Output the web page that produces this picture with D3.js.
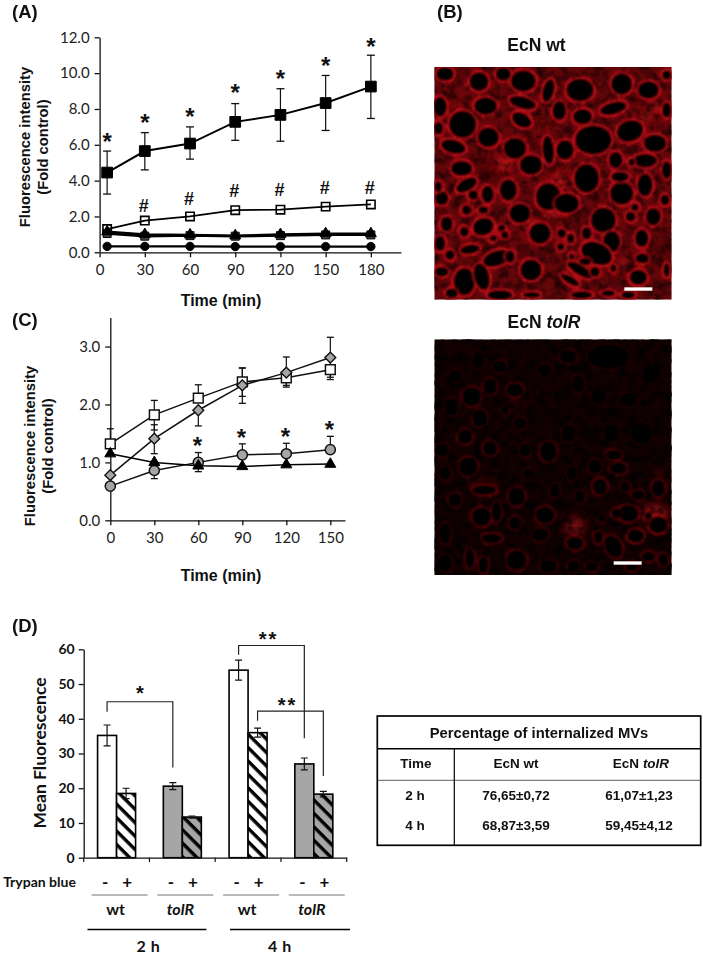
<!DOCTYPE html>
<html><head><meta charset="utf-8">
<script src="https://cdn.jsdelivr.net/npm/d3@7"></script>
<style>html,body{margin:0;padding:0;background:#fff}svg{display:block}
text{font-family:"Liberation Sans",Arial,sans-serif;fill:#111}
.tick text{font-family:Lato,"Open Sans",sans-serif;font-size:15px;fill:#222}
.dtick .tick text{font-weight:700;font-size:14px;fill:#111}
.lab{font-family:Lato,"Open Sans",sans-serif;font-weight:700}
.title{font-weight:700}</style></head><body>
<svg id="c" width="703" height="955"></svg>
<script>
// ---------- Panel A ----------
const timesA=[5,30,60,90,120,150,180];
const aBlack=[4.45,5.65,6.07,7.28,7.67,8.33,9.25];
const aBlackHi=[5.65,6.68,7.0,8.3,9.13,9.87,11.0];
const aBlackLo=[3.25,4.6,5.2,6.25,6.2,6.8,7.47];
const aOpen=[1.3,1.77,2.0,2.35,2.38,2.55,2.67];
const aTri=[1.15,1.0,0.98,0.93,1.0,1.05,1.05];
const aTri2=[1.05,0.9,0.93,0.9,0.93,0.97,0.97];
const aCirc=[0.33,0.33,0.33,0.32,0.32,0.32,0.32];
const aStars=[6.36,7.45,7.8,9.1,9.9,10.6,11.7];
const aHash=[2.64,2.98,3.44,3.53,3.6,3.62];
const aYTicks=[0,2,4,6,8,10,12];
const aXTicks=[0,30,60,90,120,150,180];
// ---------- Panel C ----------
const timesC=[0,30,60,90,120,150];
const cSquare=[1.32,1.82,2.11,2.39,2.46,2.6];
const cSquareHi=[1.58,2.07,2.34,2.63,2.46,2.6];
const cSquareLo=[1.32,1.56,2.11,2.14,2.3,2.43];
const cDiamond=[0.78,1.41,1.9,2.33,2.55,2.81];
const cDiamondHi=[0.78,1.65,1.9,2.63,2.82,3.16];
const cDiamondLo=[0.78,1.15,1.63,2.02,2.33,2.47];
const cCircle=[0.59,0.86,1.0,1.13,1.15,1.22];
const cCircleHi=[0.59,0.98,1.17,1.32,1.33,1.45];
const cCircleLo=[0.59,0.72,0.84,1.13,1.15,1.22];
const cTri=[1.15,1.0,0.94,0.93,0.96,0.97];
const cStars=[1.36,1.49,1.5,1.62];
const cYTicks=[0,1,2,3];
// ---------- Panel D ----------
const dGroups=["2h wt","2h tolR","4h wt","4h tolR"];
const dTrypan=["-","+"];
const dMinus=[35.2,20.6,54,27];
const dPlus=[18.5,11.7,36,18.3];
const dMinusErr=[3,1,2.9,1.7];
const dPlusErr=[1.5,0.3,1.3,0.8];
const dStrain=["wt","tolR","wt","tolR"];
const dTime=["2 h","4 h"];
const dYTicks=[0,10,20,30,40,50,60];
// brackets: group, sign, level at start; top level; group, sign, level at end
const dBrackets=[[0,"-",42,44.9,1,"-",26,"*"],[2,"-",58.4,61.1,3,"-",34.4,"**"],[2,"+",39.4,42.2,3,"+",23.5,"**"]];
// ---------- Table ----------
const tTitle="Percentage of internalized MVs";
const tHead=["Time","EcN wt","EcN tolR"];
const tRows=[["2 h","76,65±0,72","61,07±1,23"],["4 h","68,87±3,59","59,45±4,12"]];
// ---------- Micrographs: dark cell cavities ----------
const wtCells=[[162,245,27,27,0],[295,243,35,30,0],[370,272,17,33,15],[465,270,38,32,0],[590,252,30,30,0],[235,222,22,20,0],[60,222,25,20,0],[670,270,30,25,0],[45,320,20,28,0],[182,318,32,25,0],[293,308,38,18,15],[403,332,20,27,0],[473,350,27,22,0],[565,325,38,18,-15],[290,360,30,20,30],[113,373,38,38,0],[615,393,38,30,-20],[40,385,15,18,0],[85,440,35,20,15],[190,412,30,28,0],[270,445,32,30,0],[370,450,17,40,-5],[420,450,25,28,0],[505,420,50,40,0],[690,430,32,25,0],[110,505,30,22,0],[318,495,32,28,0],[485,535,35,40,0],[572,480,20,24,0],[660,482,33,20,0],[620,487,10,12,0],[725,510,15,25,0],[125,555,32,18,-30],[250,570,25,30,0],[188,583,18,25,0],[145,585,15,15,0],[370,590,35,38,0],[425,610,35,28,0],[590,580,33,32,0],[585,530,25,15,0],[660,555,22,32,0],[50,595,20,20,0],[285,640,30,28,0],[125,630,15,15,0],[175,630,15,12,0],[535,660,35,35,0],[617,650,15,15,0],[630,622,12,12,0],[685,650,22,25,0],[65,672,18,22,0],[175,680,30,25,-20],[118,695,14,15,0],[230,685,12,12,0],[345,700,30,30,0],[410,700,14,14,0],[437,715,12,15,0],[485,700,15,18,0],[560,725,25,30,0],[205,715,12,10,0],[240,705,12,12,0],[650,715,20,25,0],[515,760,45,30,25],[135,748,28,14,-10],[75,765,14,15,0],[215,775,40,22,-20],[255,770,15,18,0],[407,740,12,12,0],[50,815,20,15,0],[118,845,30,38,0],[170,830,22,38,-15],[318,810,30,30,0],[440,770,10,10,0],[480,785,18,12,0],[465,810,40,15,30],[510,815,15,15,0],[435,840,30,12,30],[652,775,20,15,0],[565,805,10,12,0],[640,832,25,22,0],[550,880,20,10,0],[470,885,30,12,0],[610,885,20,12,0],[80,880,18,15,0],[225,885,35,15,0],[320,885,25,10,0],[725,810,10,20,0],[45,730,16,22,0],[725,225,14,14,0],[725,330,14,22,0],[720,600,14,16,0],[40,560,12,16,0]];
const wtGlow=[[240,490,30,22,.8],[400,545,28,28,.8],[135,255,18,30,.6],[690,320,22,20,.6],[360,410,14,22,.7],[380,640,30,22,.4],[100,330,22,18,.3],[320,680,26,26,.5],[660,350,20,20,.5],[600,790,22,22,.4]];
const wtDark=[[190,510,30,30],[720,750,14,30],[640,300,30,15],[420,180,40,10]];
const trCells=[[140,290,28,28,0,.7],[195,260,20,25,0,.6],[270,270,25,20,0,.6],[165,355,22,25,0,.5],[120,410,22,22,0,.8],[195,445,22,22,0,.7],[130,500,28,28,0,.7],[370,455,25,30,0,.6],[285,370,18,18,0,.4],[240,330,12,15,0,.4],[178,570,35,15,0,1],[275,590,25,28,0,.7],[170,650,28,28,0,.9],[215,635,15,30,0,.6],[360,645,28,25,0,.7],[200,715,30,15,0,.9],[270,670,18,20,0,.6],[345,705,25,20,0,.5],[275,780,30,30,0,.9],[135,775,14,30,0,.7],[175,795,15,25,0,.7],[370,800,25,20,0,.4],[450,730,25,20,0,1],[610,640,30,25,0,1],[575,640,15,15,0,.8],[700,675,28,25,0,1.4],[670,648,12,12,0,1.4],[632,708,25,20,0,1.2],[520,712,14,20,0,.9],[565,740,25,35,-30,.9],[670,770,20,15,0,.8],[525,560,22,25,0,.9],[580,505,25,18,0,.8],[565,465,25,15,0,.7],[510,500,20,22,0,.5],[600,560,15,15,0,.5],[640,585,20,15,0,.6],[700,565,20,25,0,.8],[530,655,12,12,0,.5],[465,590,15,18,0,.4],[430,170,25,20,0,.4],[550,170,60,35,0,.3],[360,210,20,18,0,.3],[310,520,15,15,0,.3],[90,600,20,20,0,.5],[50,450,20,20,0,.4],[60,520,18,20,0,.4],[225,200,20,18,0,.4],[160,180,18,25,0,.3],[90,230,18,18,0,.2],[80,320,20,25,0,.3],[460,250,18,25,0,.3],[520,290,20,20,0,.2],[610,300,25,20,0,.2],[680,220,25,25,0,.1],[650,400,30,30,0,.2],[560,400,20,25,0,.2],[430,400,20,25,0,.3],[300,450,18,20,0,.4],[440,520,15,20,0,.3],[390,570,15,20,0,.3],[60,700,18,30,0,.4],[60,790,20,25,0,.3],[445,800,18,18,0,.4],[500,800,18,15,0,.5],[620,800,18,14,0,.7],[715,780,15,20,0,.7]];
const trGlow=[[450,680,30,28,.7],[690,640,40,25,.8],[178,565,34,16,.6],[280,300,22,10,.4],[710,530,22,12,.5],[100,400,12,16,.25]];
const trDark=[];

const svg=d3.select("#c");
const defs=svg.append("defs");
const mkBlur=(id,s)=>defs.append("filter").attr("id",id).attr("x","-30%").attr("y","-30%").attr("width","160%").attr("height","160%").append("feGaussianBlur").attr("stdDeviation",s);
mkBlur("b1",0.9);mkBlur("b2",1.8);mkBlur("b3",6);
// mottled tissue texture of the photographs
const tex=defs.append("filter").attr("id","tex").attr("x",0).attr("y",0).attr("width","100%").attr("height","100%");
tex.append("feTurbulence").attr("type","fractalNoise").attr("baseFrequency",0.11).attr("numOctaves",3).attr("seed",7);
tex.append("feColorMatrix").attr("values","0 0 0 0 0  0 0 0 0 0  0 0 0 0 0  2.6 0 0 0 -1.0");
const hatch=(id,bg)=>{const p=defs.append("pattern").attr("id",id).attr("patternUnits","userSpaceOnUse").attr("width",9.5).attr("height",9.5).attr("patternTransform","rotate(45)");
 p.append("rect").attr("width",9.5).attr("height",9.5).attr("fill",bg);
 p.append("rect").attr("width",9.5).attr("height",3.4).attr("fill","#000");};
hatch("hw","#fff");hatch("hg","#a6a6a6");

const title=(x,y,t,size,anchor="middle",rot)=>{const e=svg.append("text").attr("class","title").attr("x",x).attr("y",y).attr("text-anchor",anchor).attr("font-size",size).text(t);
 if(rot)e.attr("transform",`rotate(${rot} ${x} ${y})`);return e;};
const yLabel=(x,y,a,b)=>{title(x,y,a,14.8,"middle",-90);title(x+18,y,b,14.8,"middle",-90);};
const sym=(t,s)=>d3.symbol().type(t).size(s)();
const styleAxis=g=>{g.selectAll("path,line").attr("stroke","#111").attr("stroke-width",1.3);};
const errs=(g,xs,ys,lo,hi,w,col="#111")=>{xs.forEach((x0,i)=>{const x=ys.x(x0);
 g.append("line").attr("x1",x).attr("x2",x).attr("y1",ys.y(lo[i])).attr("y2",ys.y(hi[i])).attr("stroke",col).attr("stroke-width",1.2);
 [lo[i],hi[i]].forEach(v=>g.append("line").attr("x1",x-w).attr("x2",x+w).attr("y1",ys.y(v)).attr("y2",ys.y(v)).attr("stroke",col).attr("stroke-width",1.3));});};
const series=(g,xs,vals,sc,type,size,fill,stroke,sw,lw)=>{
 g.append("path").attr("fill","none").attr("stroke",stroke).attr("stroke-width",lw).attr("d",d3.line().x((d,i)=>sc.x(xs[i])).y(d=>sc.y(d))(vals));
 g.selectAll(null).data(vals).enter().append("path").attr("d",sym(type,size)).attr("transform",(d,i)=>`translate(${sc.x(xs[i])},${sc.y(d)})`).attr("fill",fill).attr("stroke",stroke).attr("stroke-width",sw);};

// Panel A
{const sc={x:d3.scaleLinear([0,200],[99.6,401]),y:d3.scaleLinear([0,12],[252.3,37.3])};
 const g=svg.append("g");
 g.append("g").attr("transform","translate(0,252.3)").call(d3.axisBottom(sc.x).tickValues(aXTicks).tickSize(5).tickSizeOuter(0).tickPadding(7)).call(styleAxis);
 g.append("g").attr("transform","translate(99.6,0)").call(d3.axisLeft(sc.y).tickValues(aYTicks).tickSize(5).tickSizeOuter(0).tickPadding(5).tickFormat(d3.format(".1f"))).call(styleAxis);
 errs(g,timesA,sc,aBlackLo,aBlackHi,4);
 series(g,timesA,aCirc,sc,d3.symbolCircle,55,"#000","#000",1,2.2);
 series(g,timesA,aTri2,sc,d3.symbolSquare,64,"#444","#000",1,2.4);
 series(g,timesA,aTri,sc,d3.symbolTriangle,52,"#000","#000",1,2.2);
 series(g,timesA,aOpen,sc,d3.symbolSquare,70,"none","#000",1.6,1.8);
 series(g,timesA,aBlack,sc,d3.symbolSquare,115,"#000","#000",1,2);
 timesA.forEach((t,i)=>g.append("text").attr("class","title").attr("x",sc.x(t)).attr("y",sc.y(aStars[i])+12).attr("text-anchor","middle").attr("font-size",24).text("*"));
 timesA.slice(1).forEach((t,i)=>g.append("text").attr("class","title").attr("x",sc.x(t)-1).attr("y",sc.y(aHash[i])+6.5).attr("text-anchor","middle").attr("font-size",18).text("#"));
 yLabel(30,147,"Fluorescence intensity","(Fold control)");
 title(221,306,"Time (min)",16);
}
// Panel C
{const sc={x:d3.scaleLinear([0,160],[110.3,345]),y:d3.scaleLinear([0,3.5],[520.3,317.6])};
 const g=svg.append("g");
 g.append("g").attr("transform","translate(0,520.3)").call(d3.axisBottom(sc.x).tickValues(timesC).tickSize(5).tickSizeOuter(0).tickPadding(7)).call(styleAxis);
 g.append("g").attr("transform","translate(110.3,0)").call(d3.axisLeft(sc.y).tickValues(cYTicks).tickSize(5).tickSizeOuter(0).tickPadding(5).tickFormat(d3.format(".1f"))).call(styleAxis);
 errs(g,timesC,sc,cSquareLo,cSquareHi,3.5);
 errs(g,timesC,sc,cDiamondLo,cDiamondHi,3.5);
 errs(g,timesC,sc,cCircleLo,cCircleHi,3.5);
 series(g,timesC,cSquare,sc,d3.symbolSquare,95,"#fff","#111",1.5,1.5);
 series(g,timesC,cDiamond,sc,d3.symbolDiamond2,75,"#a6a6a6","#111",1.4,1.5);
 series(g,timesC,cCircle,sc,d3.symbolCircle,80,"#a6a6a6","#111",1.5,1.5);
 series(g,timesC,cTri,sc,d3.symbolTriangle,52,"#000","#000",1,1.5);
 timesC.slice(2).forEach((t,i)=>g.append("text").attr("class","title").attr("x",sc.x(t)-1).attr("y",sc.y(cStars[i])+12).attr("text-anchor","middle").attr("font-size",24).text("*"));
 yLabel(35,446,"Fluorescence intensity","(Fold control)");
 title(221,581,"Time (min)",16);
}
// Panel D
{const X=d3.scaleBand(dGroups,[83.7,346.7]);
 const inner=d3.scaleBand(dTrypan,[-19,19]);
 const Y=d3.scaleLinear([0,60],[857.7,649.3]);
 const g=svg.append("g").attr("class","dtick");
 const bx=(i,s)=>X(dGroups[i])+X.bandwidth()/2+inner(s);
 const fillFor=(i,s)=>s==="-"?(i%2?"#a6a6a6":"#fff"):(i%2?"url(#hg)":"url(#hw)");
 [["-",dMinus,dMinusErr],["+",dPlus,dPlusErr]].forEach(([s,v,e])=>{
  v.forEach((d,i)=>{const x=bx(i,s),w=inner.bandwidth(),c=x+w/2;
   g.append("rect").attr("x",x).attr("y",Y(d)).attr("width",w).attr("height",Y(0)-Y(d)).attr("fill",fillFor(i,s)).attr("stroke","#000").attr("stroke-width",1.6);
   g.append("path").attr("fill","none").attr("stroke","#111").attr("stroke-width",1.2)
    .attr("d",`M${c-3.5},${Y(d+e[i])}H${c+3.5}M${c},${Y(d+e[i])}V${Y(d-e[i])}M${c-3.5},${Y(d-e[i])}H${c+3.5}`);
  });});
 g.append("g").attr("transform","translate(0,857.7)").call(d3.axisBottom(X).tickValues([]).tickSizeOuter(0)).call(styleAxis);
 [...dGroups.map(d=>X(d)),X(dGroups[3])+X.bandwidth()].forEach(x=>g.append("line").attr("x1",x).attr("x2",x).attr("y1",857.7).attr("y2",862).attr("stroke","#111").attr("stroke-width",1.2));
 g.append("g").attr("transform","translate(83.7,0)").call(d3.axisLeft(Y).tickValues(dYTicks).tickSize(5).tickSizeOuter(0).tickPadding(4)).call(styleAxis);
 dBrackets.forEach(([g1,s1,a,t,g2,s2,b,lab])=>{const x1=bx(g1,s1)+9.5,x2=bx(g2,s2)+9.5;
  g.append("path").attr("fill","none").attr("stroke","#222").attr("stroke-width",1.2).attr("d",`M${x1},${Y(a)}V${Y(t)}H${x2}V${Y(b)}`);
  g.append("text").attr("class","title").attr("x",(x1+x2)/2+(lab==="*"?1:-3)).attr("y",Y(t)+(lab==="*"?-2:1)).attr("text-anchor","middle").attr("font-size",20).attr("letter-spacing",2).text(lab);});
 svg.append("text").attr("class","lab").attr("x",39.5).attr("y",887).attr("text-anchor","middle").attr("font-size",14).text("Trypan blue");
 dGroups.forEach((d,i)=>{dTrypan.forEach(s=>{svg.append("text").attr("class","lab").attr("x",bx(i,s)+9.5+(s==="-"?-2:1)).attr("y",888).attr("text-anchor","middle").attr("font-size",17).text(s);});
  const cx=X(d)+X.bandwidth()/2;
  svg.append("line").attr("x1",cx-25).attr("x2",cx+31).attr("y1",895).attr("y2",895).attr("stroke","#777").attr("stroke-width",1.2);
  svg.append("text").attr("class","lab").attr("x",cx+(i%2?-2:-1)).attr("y",915).attr("text-anchor","middle").attr("font-size",16).attr("font-style",dStrain[i]==="tolR"?"italic":"normal").text(dStrain[i]);});
 dTime.forEach((t,i)=>{const mid=X(dGroups[i*2])+X.bandwidth();
  svg.append("line").attr("x1",mid-2+(i?11:0)-60).attr("x2",mid-2+(i?12:0)+59).attr("y1",929.5).attr("y2",929.5).attr("stroke","#000").attr("stroke-width",1.6);
  svg.append("text").attr("class","lab").attr("x",mid-1).attr("y",952).attr("text-anchor","middle").attr("font-size",16).attr("letter-spacing",.5).text(t);});
 svg.append("text").attr("class","lab").attr("transform","translate(46,753) rotate(-90)").attr("text-anchor","middle").attr("font-size",17.5).text("Mean Fluorescence");
}
// Micrographs
const microX=d3.scaleLinear([28,740],[434.3,671.7]);
function micro(id,y0z,y1z,py0,py1,base,cells,glows,dark,isWt){
 const y=d3.scaleLinear([y0z,y1z],[py0,py1]),k=(microX(1)-microX(0)),grow=isWt?1.14:1.08;
 defs.append("clipPath").attr("id",id).append("rect").attr("x",434.3).attr("y",py0).attr("width",237.4).attr("height",py1-py0);
 const g=svg.append("g").attr("clip-path",`url(#${id})`);
 const frame=()=>g.append("rect").attr("x",434.3).attr("y",py0).attr("width",237.4).attr("height",py1-py0);
 frame().attr("fill",base);
 const halo=g.append("g").attr("filter","url(#b2)");
 const ell=(sel,c)=>sel.append("ellipse").attr("transform",`translate(${microX(c[0])},${y(c[1])}) rotate(${c[4]})`).attr("rx",c[2]*k*grow).attr("ry",c[3]*k*grow);
 cells.forEach(c=>{ell(halo,c).attr("fill","none").attr("stroke",isWt?"#d8101a":"#a00a12").attr("stroke-width",isWt?4:3).attr("opacity",isWt?.7:c[5]*.55);});
 const gl=g.append("g").attr("filter","url(#b3)");
 glows.forEach(c=>gl.append("ellipse").attr("cx",microX(c[0])).attr("cy",y(c[1])).attr("rx",c[2]*k).attr("ry",c[3]*k).attr("fill",isWt?"#e8141c":"#c01018").attr("opacity",c[4]));
 dark.forEach(c=>gl.append("ellipse").attr("cx",microX(c[0])).attr("cy",y(c[1])).attr("rx",c[2]*k).attr("ry",c[3]*k).attr("fill","#3a0306").attr("opacity",.7));
 frame().attr("filter","url(#tex)").attr("opacity",isWt?.6:.85);
 const h=g.append("g").attr("filter","url(#b1)");
 cells.forEach(c=>{const e=ell(h,c).attr("fill","#000").attr("stroke",isWt?"#e01820":"#a81018").attr("stroke-width",isWt?.9:.8);
  if(!isWt)e.attr("stroke-opacity",Math.min(1,c[5]*.55));});
}
micro("m1",201,899,67,299.7,"#620609",wtCells,wtGlow,wtDark,true);
micro("m2",118,825,339.3,575,"#130102",trCells,trGlow,trDark,false);
// scale bars
[[598,682,867,201,899,67,299.7],[566,650,789,118,825,339.3,575]].forEach(([a,b,yz,y0,y1,p0,p1])=>{const y=d3.scaleLinear([y0,y1],[p0,p1])(yz);
 svg.append("line").attr("x1",microX(a)).attr("x2",microX(b)).attr("y1",y).attr("y2",y).attr("stroke","#fff").attr("stroke-width",3.4);});
title(536.5,51,"EcN wt",17.5);
{const t=title(544,328,"EcN ",17.5);t.append("tspan").attr("font-style","italic").text("tolR");}
// Panel labels
[["(A)",12,18],["(B)",437,18],["(C)",12,326],["(D)",12,632]].forEach(([t,x,y])=>title(x,y,t,18.5,"start"));
// Table
{const X=[377.3,700.7],Yt=[716,748.7,780.3,845.3];
 const g=svg.append("g");
 g.append("rect").attr("x",X[0]).attr("y",Yt[0]).attr("width",X[1]-X[0]).attr("height",Yt[3]-Yt[0]).attr("fill","none").attr("stroke","#000").attr("stroke-width",1.7);
 g.append("line").attr("x1",X[0]).attr("x2",X[1]).attr("y1",Yt[1]).attr("y2",Yt[1]).attr("stroke","#000").attr("stroke-width",1.5);
 g.append("line").attr("x1",X[0]).attr("x2",X[1]).attr("y1",Yt[2]).attr("y2",Yt[2]).attr("stroke","#333").attr("stroke-width",.8);
 g.append("line").attr("x1",454.3).attr("x2",454.3).attr("y1",Yt[1]).attr("y2",Yt[3]).attr("stroke","#000").attr("stroke-width",1.2);
 title(539,738,tTitle,14.8);
 const cols=[416,516,641];
 tHead.forEach((h,i)=>{const t=title(cols[i],768,"",13.5);
  if(h.endsWith("tolR")){t.text("EcN ");t.append("tspan").attr("font-style","italic").text("tolR");}else t.text(h);});
 tRows.forEach((r,j)=>r.forEach((v,i)=>title(i?cols[i]-(i==2?2:0):cols[i]-1,[800,830][j],v,13.5)));
}
</script></body></html>
